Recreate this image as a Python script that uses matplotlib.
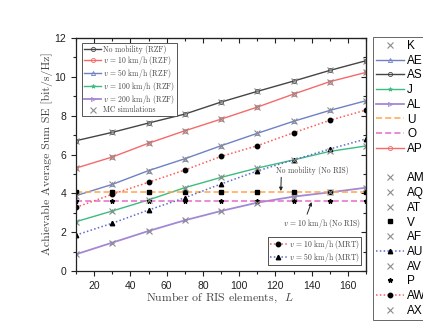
import matplotlib
matplotlib.use("Agg")
import matplotlib.pyplot as plt
from matplotlib.lines import Line2D
from matplotlib.ticker import MultipleLocator

plt.rcParams['mathtext.fontset'] = 'cm'
plt.rcParams['axes.unicode_minus'] = False

# ---------------- data ----------------
L = [10, 30, 50, 70, 90, 110, 130, 150, 170]
nomob_rzf = [6.71, 7.14, 7.62, 8.08, 8.70, 9.25, 9.78, 10.33, 10.83]
v10_rzf = [5.30, 5.87, 6.58, 7.22, 7.82, 8.44, 9.11, 9.75, 10.23]
v50_rzf = [3.88, 4.46, 5.17, 5.78, 6.45, 7.09, 7.71, 8.27, 8.77]
v100_rzf = [2.54, 3.09, 3.66, 4.29, 4.82, 5.30, 5.72, 6.16, 6.44]
v200_rzf = [0.86, 1.46, 2.06, 2.61, 3.09, 3.52, 3.83, 4.05, 4.29]
nomob_noris = [4.07] * 9
v10_noris = [3.60] * 9
v10_mrt = [3.28, 3.95, 4.57, 5.20, 5.90, 6.45, 7.12, 7.76, 8.29]
v50_mrt = [1.85, 2.46, 3.14, 3.77, 4.48, 5.15, 5.72, 6.28, 6.80]

legend1_labels = ['No mobility (RZF)', r'$v$ = 10 km/h (RZF)', r'$v$ = 50 km/h (RZF)',
                  r'$v$ = 100 km/h (RZF)', r'$v$ = 200 km/h (RZF)', 'MC simulations']
legend2_labels = [r'$v$ = 10 km/h (MRT)', r'$v$ = 50 km/h (MRT)']
right_labels = ['K', 'AE', 'AS', 'J', 'AL', 'U', 'O', 'AP', ' ', 'AM', 'AQ', 'AT',
                'V', 'AF', 'AU', 'AV', 'P', 'AW', 'AX']
xticks = [20, 40, 60, 80, 100, 120, 140, 160]
yticks = [0, 2, 4, 6, 8, 10, 12]

# ---------------- style ----------------
c_black = '#454545'
c_red = '#f46a6a'
c_blue = '#6f80c4'
c_green = '#3dbb80'
c_purple = '#a388d6'
c_orange = '#ffa54a'
c_pink = '#e46bc6'
c_mrt_red = '#ff5a5a'
c_mrt_blue = '#5c6cd0'
c_mc = '#8c8c8c'

serif = 'cmr10'
small = 5.5

fig = plt.figure(figsize=(4.23, 3.24), dpi=100)
ax = fig.add_axes([76/423, 1-271/324, 290/423, 233/324])

mk = dict(markersize=3, markerfacecolor='none', markeredgewidth=0.6)
l_nomob, = ax.plot(L, nomob_rzf, color=c_black, lw=1.0, marker='o', **mk)
l_v10, = ax.plot(L, v10_rzf, color=c_red, lw=1.0, marker='o', **mk)
l_v50, = ax.plot(L, v50_rzf, color=c_blue, lw=1.0, marker='^', **mk)
l_v100, = ax.plot(L, v100_rzf, color=c_green, lw=1.0, marker='*', **mk)
l_v200, = ax.plot(L, v200_rzf, color=c_purple, lw=1.3, marker='>', **mk)

l_or, = ax.plot(L, nomob_noris, color=c_orange, lw=1.1, ls=(0, (4, 2)))
l_pk, = ax.plot(L, v10_noris, color=c_pink, lw=1.1, ls=(0, (4, 2)))
m_sq, = ax.plot(L, nomob_noris, ls='none', marker='s', color='black', markersize=3.3)
m_st, = ax.plot(L, v10_noris, ls='none', marker='*', color='black', markersize=3.3)

l_m10, = ax.plot(L, v10_mrt, color=c_mrt_red, lw=1.1, ls=(0, (1, 1.5)),
                 marker='o', markersize=3.2, markerfacecolor='black', markeredgecolor='black')
l_m50, = ax.plot(L, v50_mrt, color=c_mrt_blue, lw=1.1, ls=(0, (1, 1.5)),
                 marker='^', markersize=3.2, markerfacecolor='black', markeredgecolor='black')

mc_kw = dict(ls='none', marker='x', color=c_mc, markersize=4, markeredgewidth=0.8)
mc_arts = []
for ys in [nomob_rzf, v10_rzf, v50_rzf, v100_rzf, v200_rzf]:
    a, = ax.plot(L, ys, **mc_kw)
    mc_arts.append(a)

ax.set_xlim(10, 170)
ax.set_ylim(0, 12)
ax.set_xticks(xticks)
ax.set_yticks(yticks)
ax.xaxis.set_minor_locator(MultipleLocator(10))
ax.yaxis.set_minor_locator(MultipleLocator(1))
ax.tick_params(which='both', direction='out', colors='#222222', labelsize=7.5,
               width=0.8)
ax.tick_params(which='major', length=3.5)
ax.tick_params(which='minor', length=2)
for lab in ax.get_xticklabels() + ax.get_yticklabels():
    lab.set_fontfamily('Liberation Sans')
for s in ax.spines.values():
    s.set_linewidth(0.9)
    s.set_color('#222222')

secx = ax.secondary_xaxis('top')
secx.set_xticks(xticks)
secx.xaxis.set_minor_locator(MultipleLocator(10))
secx.tick_params(which='both', direction='in', labeltop=False, width=0.8, colors='#222222')
secx.tick_params(which='major', length=3.5)
secx.tick_params(which='minor', length=2)
secy = ax.secondary_yaxis('right')
secy.set_yticks(yticks)
secy.yaxis.set_minor_locator(MultipleLocator(1))
secy.tick_params(which='both', direction='in', labelright=False, width=0.8, colors='#222222')
secy.tick_params(which='major', length=3.5)
secy.tick_params(which='minor', length=2)

ax.set_xlabel(r'Number of RIS elements,  $L$', fontfamily=serif, fontsize=8.5, color='#444444')
ax.set_ylabel('Achievable Average Sum SE [bit/s/Hz]', fontfamily=serif, fontsize=8.5, color='#444444')
ax.xaxis.set_label_coords(0.497, -0.085)
ax.yaxis.set_label_coords(-0.08, 0.504)

# annotations
ax.annotate('No mobility (No RIS)', xy=(123, 4.12), xytext=(140.5, 5.2),
            fontfamily=serif, fontsize=small, ha='center', va='center', color='#444444',
            arrowprops=dict(arrowstyle='-|>', color='#222222', lw=0.7, mutation_scale=5,
                            shrinkA=0, shrinkB=0, relpos=(0.07, 0.0)))
ax.annotate(r'$v$ = 10 km/h (No RIS)', xy=(140, 3.55), xytext=(145.5, 2.45),
            fontfamily=serif, fontsize=small, ha='center', va='center', color='#444444',
            arrowprops=dict(arrowstyle='-|>', color='#222222', lw=0.7, mutation_scale=5,
                            shrinkA=0, shrinkB=0, relpos=(0.3, 1.0)))

# legend 1 (top-left)
h1 = [l_nomob, l_v10, l_v50, l_v100, l_v200, mc_arts[0]]
leg1 = ax.legend(h1, legend1_labels, loc='upper left', bbox_to_anchor=(6/290, 1-5/233),
                 prop={'family': serif, 'size': small}, labelspacing=0.0, handlelength=2.3,
                 handletextpad=0.2, borderpad=0.25, borderaxespad=0, fancybox=False,
                 edgecolor='#555555', framealpha=1)
leg1.get_frame().set_linewidth(0.7)
for t in leg1.get_texts():
    t.set_color('#444444')
ax.add_artist(leg1)

# legend 2 (bottom-right)
leg2 = ax.legend([l_m10, l_m50], legend2_labels, loc='lower right', bbox_to_anchor=(1-5/290, 6/233),
                 prop={'family': serif, 'size': small}, labelspacing=0.0, handlelength=2.3,
                 handletextpad=0.2, borderpad=0.15, borderaxespad=0, fancybox=False,
                 edgecolor='#555555', framealpha=1)
leg2.get_frame().set_linewidth(0.7)
for t in leg2.get_texts():
    t.set_color('#444444')
ax.add_artist(leg2)

# right legend (outside)
proxy_x = lambda: Line2D([], [], **mc_kw)
blank = Line2D([], [], ls='none')
rh = [mc_arts[0], l_v50, l_nomob, l_v100, l_v200, l_or, l_pk, l_v10, blank,
      mc_arts[1], mc_arts[2], mc_arts[3], m_sq, mc_arts[4], l_m50, proxy_x(), m_st, l_m10, proxy_x()]
leg3 = fig.legend(rh, right_labels, loc='upper left', bbox_to_anchor=(373/423, 1-37/324),
                  prop={'family': 'Liberation Sans', 'size': 8.5}, labelspacing=0.23,
                  handlelength=2.4, handletextpad=0.25, borderpad=0.25, borderaxespad=0,
                  fancybox=False, edgecolor='#666666', framealpha=1)
leg3.get_frame().set_linewidth(0.7)

fig.savefig('out.png', dpi=100)
